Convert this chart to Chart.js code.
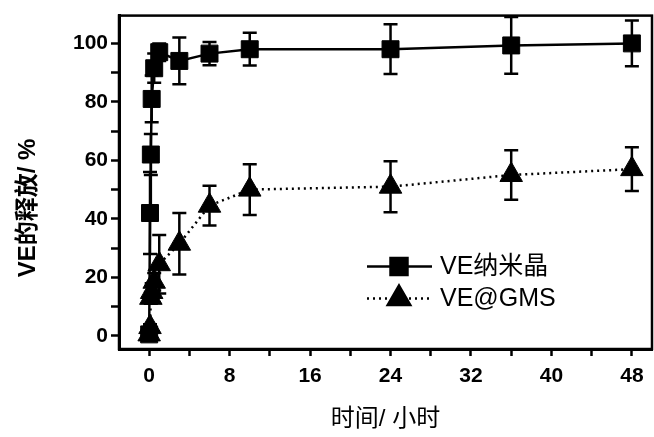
<!DOCTYPE html>
<html>
<head>
<meta charset="utf-8">
<script src="https://cdn.jsdelivr.net/npm/chart.js@4/dist/chart.umd.min.js"></script>
<style>
  body { margin: 0; background: #fff; }
  canvas { display: block; }
</style>
</head>
<body>
<canvas id="releaseChart" width="654" height="437"></canvas>
<script>
// release data (hours, %)
const times = [0, 0.083, 0.167, 0.25, 0.5, 1, 3, 6, 10, 24, 36, 48];
const nanoRelease = [0.5, 42, 62, 81, 91.5, 97, 94, 96.5, 98, 98, 99.3, 100];
const nanoError = [0, 14, 7, 8, 5, 3, 8, 4, 5.6, 8.5, 9.7, 7.8];
const gmsRelease = [0.5, 3, 13, 15, 18.5, 24.5, 31.5, 44.5, 50, 51, 55, 57];
const gmsError = [0, 1, 2, 3, 3, 10, 10.5, 6.8, 8.7, 8.7, 8.5, 7.5];

const xTicks = [0, 4, 8, 12, 16, 20, 24, 28, 32, 36, 40, 44, 48];
const yTicks = [0, 10, 20, 30, 40, 50, 60, 70, 80, 90, 100];
const seriesNames = ["VE纳米晶", "VE@GMS"];
const xTitle = "时间/ 小时";
const yTitle = "VE的释放/ %";

const FONT = "'Liberation Sans', Arial, 'Noto Sans CJK SC', sans-serif";

function toPoints(xs, ys) {
    return xs.map((x, i) => ({ x: x, y: ys[i] }));
}

// error bars drawn through the scales
const errorBars = {
    id: 'errorBars',
    afterDatasetsDraw(chart) {
        const ctx = chart.ctx;
        const y = chart.scales.y;
        const area = chart.chartArea;
        ctx.save();
        ctx.beginPath();
        ctx.rect(area.left, area.top - 2, area.right - area.left, area.bottom - area.top + 2);
        ctx.clip();
        ctx.strokeStyle = '#000';
        ctx.lineWidth = 2.5;
        chart.data.datasets.forEach((ds, i) => {
            const meta = chart.getDatasetMeta(i);
            meta.data.forEach((pt, j) => {
                const e = ds.errors[j];
                if (!e) return;
                const v = ds.data[j].y;
                const top = y.getPixelForValue(v + e);
                const bot = y.getPixelForValue(v - e);
                ctx.beginPath();
                ctx.moveTo(pt.x, top); ctx.lineTo(pt.x, bot);
                ctx.moveTo(pt.x - 7, top); ctx.lineTo(pt.x + 7, top);
                ctx.moveTo(pt.x - 7, bot); ctx.lineTo(pt.x + 7, bot);
                ctx.stroke();
            });
        });
        ctx.restore();
    }
};

// frame, axis titles and legend
const decorations = {
    id: 'decorations',
    afterDraw(chart) {
        const ctx = chart.ctx;
        const a = chart.chartArea;
        ctx.save();
        ctx.strokeStyle = '#000';
        ctx.lineWidth = 2.5;
        ctx.strokeRect(a.left, a.top, a.right - a.left, a.bottom - a.top);

        ctx.fillStyle = '#000';
        ctx.textAlign = 'center';
        ctx.textBaseline = 'middle';
        ctx.font = "24px " + FONT;
        ctx.fillText(xTitle, (a.left + a.right) / 2, 419);

        ctx.save();
        ctx.translate(28, 208);
        ctx.rotate(-Math.PI / 2);
        ctx.font = "bold 24px " + FONT;
        ctx.fillText(yTitle, 0, 0);
        ctx.restore();

        // legend
        const lx = a.left + 248, rowY = [a.top + 251, a.top + 283];
        chart.data.datasets.forEach((ds, i) => {
            const yy = rowY[i];
            ctx.beginPath();
            ctx.lineWidth = 2.5;
            ctx.setLineDash(ds.borderDash || []);
            ctx.moveTo(lx, yy);
            ctx.lineTo(lx + 65, yy);
            ctx.stroke();
            ctx.setLineDash([]);
            Chart.helpers.drawPoint(ctx, {
                pointStyle: ds.pointStyle,
                radius: ds.pointRadius,
                borderWidth: 1
            }, lx + 32, yy);
            ctx.textAlign = 'left';
            ctx.font = "25px " + FONT;
            ctx.fillText(ds.label, lx + 73, yy + 1);
        });
        ctx.restore();
    }
};

const ctx = document.getElementById('releaseChart').getContext('2d');
const releaseChart = new Chart(ctx, {
    type: 'line',
    data: {
        datasets: [{
            label: seriesNames[0],
            data: toPoints(times, nanoRelease),
            errors: nanoError,
            borderColor: '#000',
            backgroundColor: '#000',
            borderWidth: 2.5,
            pointStyle: 'rect',
            pointRadius: 12,
            pointBorderWidth: 1,
            tension: 0
        }, {
            label: seriesNames[1],
            data: toPoints(times, gmsRelease),
            errors: gmsError,
            borderColor: '#000',
            backgroundColor: '#000',
            borderWidth: 2.5,
            borderDash: [2, 4],
            pointStyle: 'triangle',
            pointRadius: 13,
            pointBorderWidth: 1,
            tension: 0
        }]
    },
    options: {
        responsive: false,
        animation: false,
        devicePixelRatio: 1,
        layout: { autoPadding: false, padding: { top: 14, right: 2, left: 0, bottom: 0 } },
        plugins: { legend: { display: false }, tooltip: { enabled: false } },
        scales: {
            x: {
                type: 'linear',
                min: -3,
                max: 50,
                afterBuildTicks: s => { s.ticks = xTicks.map(v => ({ value: v })); },
                afterFit: s => { s.height = 88; },
                border: { display: true, color: '#000', width: 3 },
                grid: { drawOnChartArea: false, color: '#000', tickLength: 7, tickWidth: 2.5 },
                ticks: {
                    autoSkip: false,
                    maxRotation: 0,
                    padding: 8,
                    color: '#000',
                    font: { family: FONT, size: 21, weight: 'bold' },
                    callback: v => (v % 8 === 0 ? String(v) : '')
                }
            },
            y: {
                min: -4.5,
                max: 109.5,
                afterBuildTicks: s => { s.ticks = yTicks.map(v => ({ value: v })); },
                afterFit: s => { s.width = 119; },
                border: { display: true, color: '#000', width: 3 },
                grid: { drawOnChartArea: false, color: '#000', tickLength: 8, tickWidth: 2.5 },
                ticks: {
                    autoSkip: false,
                    padding: 3,
                    color: '#000',
                    font: { family: FONT, size: 21, weight: 'bold' },
                    callback: v => (v % 20 === 0 ? String(v) : '')
                }
            }
        }
    },
    plugins: [errorBars, decorations]
});
</script>
</body>
</html>
